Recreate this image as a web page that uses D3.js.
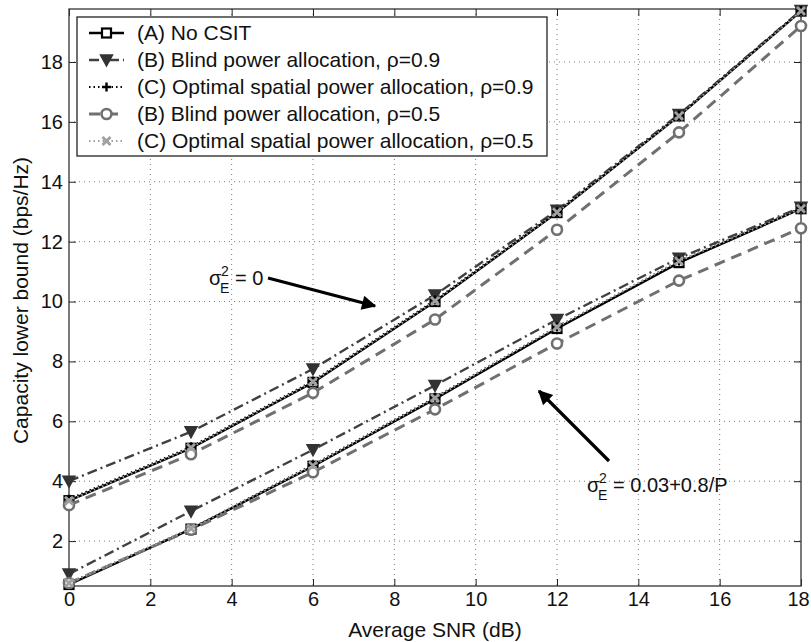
<!DOCTYPE html>
<html lang="en">
<head>
    <meta charset="UTF-8" />
    <title>Capacity lower bound vs SNR</title>
    <script src="https://d3js.org/d3.v7.min.js"></script>
    <style>
        body { margin: 0; background: #fff; }
        svg { display: block; font-family: "Liberation Sans", Arial, Helvetica, sans-serif; }
        .grid line { stroke: #777; stroke-width: 1; stroke-dasharray: 1,4; }
    </style>
</head>
<body>
    <svg id="chart" width="811" height="642"></svg>

    <script>
        // x values (dB)
        const snr = [0, 3, 6, 9, 12, 15, 18];

        // sigma_E^2 = 0 (upper group)
        const noCsitPerfect   = [3.35, 5.1, 7.3, 10.0, 12.97, 16.2, 19.7];
        const blind09Perfect  = [4.0, 5.65, 7.75, 10.22, 13.05, 16.25, 19.72];
        const opt09Perfect    = [3.4, 5.15, 7.35, 10.05, 13.0, 16.22, 19.72];
        const blind05Perfect  = [3.2, 4.9, 6.95, 9.4, 12.4, 15.65, 19.2];
        const opt05Perfect    = [3.35, 5.12, 7.32, 10.02, 12.98, 16.2, 19.7];

        // sigma_E^2 = 0.03 + 0.8/P (lower group)
        const noCsitErr  = [0.55, 2.4, 4.5, 6.75, 9.1, 11.3, 13.1];
        const blind09Err = [0.9, 3.0, 5.05, 7.2, 9.4, 11.45, 13.15];
        const opt09Err   = [0.6, 2.42, 4.55, 6.8, 9.15, 11.35, 13.12];
        const blind05Err = [0.6, 2.38, 4.3, 6.4, 8.6, 10.7, 12.45];
        const opt05Err   = [0.6, 2.42, 4.52, 6.78, 9.15, 11.35, 13.1];

        const xTicks = [0, 2, 4, 6, 8, 10, 12, 14, 16, 18];
        const yTicks = [2, 4, 6, 8, 10, 12, 14, 16, 18];

        const legendLabels = [
            "(A) No CSIT",
            "(B) Blind power allocation, \u03C1=0.9",
            "(C) Optimal spatial power allocation, \u03C1=0.9",
            "(B) Blind power allocation, \u03C1=0.5",
            "(C) Optimal spatial power allocation, \u03C1=0.5"
        ];

        // series styles: same order as legend
        const styles = [
            { color: "#000", width: 2.4, dash: null, marker: "square" },
            { color: "#404040", width: 2.4, dash: "10,4,2,4", marker: "tri" },
            { color: "#000", width: 2, dash: "1.5,3", marker: "plus" },
            { color: "#707070", width: 3, dash: "11,7", marker: "circle" },
            { color: "#a0a0a0", width: 2, dash: "1.5,3", marker: "cross" }
        ];

        const groups = [
            [noCsitPerfect, blind09Perfect, opt09Perfect, blind05Perfect, opt05Perfect],
            [noCsitErr, blind09Err, opt09Err, blind05Err, opt05Err]
        ];

        const FS = 20, FS_LABEL = 21;
        const pLeft = 69, pRight = 801, pTop = 9, pBottom = 586;
        const svg = d3.select("#chart");

        const x = d3.scaleLinear().domain([0, 18]).range([pLeft, pRight]);
        const y = d3.scaleLinear().domain([0.5, 19.77]).range([pBottom, pTop]);

        // grid
        const grid = svg.append("g").attr("class", "grid");
        grid.selectAll(".gx").data(xTicks.slice(1, -1)).enter().append("line")
            .attr("x1", d => x(d)).attr("x2", d => x(d))
            .attr("y1", pTop).attr("y2", pBottom);
        grid.selectAll(".gy").data(yTicks).enter().append("line")
            .attr("x1", pLeft).attr("x2", pRight)
            .attr("y1", d => y(d)).attr("y2", d => y(d));

        // axes with inward ticks, mirrored
        const axStyle = g => {
            g.select(".domain").remove();
            g.selectAll(".tick line").attr("stroke", "#222").attr("stroke-width", 1);
            g.selectAll("text").attr("font-size", FS).attr("fill", "#111")
                .attr("font-family", "'Liberation Sans', Arial, sans-serif");
        };
        const xAxisG = svg.append("g").attr("transform", `translate(0,${pBottom})`)
            .call(d3.axisBottom(x).tickValues(xTicks).tickSizeInner(-7).tickSizeOuter(0).tickPadding(6))
            .call(axStyle);
        // keep the last label inside the page
        xAxisG.selectAll(".tick text").filter(d => d === 18).attr("x", -3);
        svg.append("g").attr("transform", `translate(0,${pTop})`)
            .call(d3.axisTop(x).tickValues(xTicks).tickSizeInner(-7).tickSizeOuter(0).tickFormat(""))
            .call(axStyle);
        svg.append("g").attr("transform", `translate(${pLeft},0)`)
            .call(d3.axisLeft(y).tickValues(yTicks).tickSizeInner(-7).tickSizeOuter(0).tickPadding(6))
            .call(axStyle);
        svg.append("g").attr("transform", `translate(${pRight},0)`)
            .call(d3.axisRight(y).tickValues(yTicks).tickSizeInner(-7).tickSizeOuter(0).tickFormat(""))
            .call(axStyle);

        svg.append("rect")
            .attr("x", pLeft).attr("y", pTop)
            .attr("width", pRight - pLeft).attr("height", pBottom - pTop)
            .attr("fill", "none").attr("stroke", "#333").attr("stroke-width", 1.3);

        // markers
        function drawMarker(g, type, cx, cy, st) {
            if (type === "square") {
                g.append("rect").attr("x", cx - 4.5).attr("y", cy - 4.5).attr("width", 9).attr("height", 9)
                    .attr("fill", "#fff").attr("stroke", "#000").attr("stroke-width", 2.2);
            } else if (type === "tri") {
                g.append("path").attr("d", `M${cx - 6},${cy - 5}L${cx + 6},${cy - 5}L${cx},${cy + 6}Z`)
                    .attr("fill", "#333").attr("stroke", "#333").attr("stroke-width", 1.5);
            } else if (type === "plus") {
                g.append("path").attr("d", `M${cx - 4.5},${cy}H${cx + 4.5}M${cx},${cy - 4.5}V${cy + 4.5}`)
                    .attr("stroke", "#000").attr("stroke-width", 2.4);
            } else if (type === "circle") {
                g.append("circle").attr("cx", cx).attr("cy", cy).attr("r", 5)
                    .attr("fill", "#fff").attr("stroke", "#707070").attr("stroke-width", 2.6);
            } else if (type === "cross") {
                g.append("path").attr("d", `M${cx - 4},${cy - 4}L${cx + 4},${cy + 4}M${cx - 4},${cy + 4}L${cx + 4},${cy - 4}`)
                    .attr("stroke", st.color).attr("stroke-width", 2.8);
            }
        }

        const line = d3.line().x((d, i) => x(snr[i])).y(d => y(d));
        const plot = svg.append("g");

        groups.forEach(series => {
            series.forEach((vals, k) => {
                const st = styles[k];
                plot.append("path").datum(vals)
                    .attr("d", line)
                    .attr("fill", "none")
                    .attr("stroke", st.color)
                    .attr("stroke-width", st.width)
                    .attr("stroke-dasharray", st.dash);
                const mg = plot.append("g");
                vals.forEach((v, i) => drawMarker(mg, st.marker, x(snr[i]), y(v), st));
            });
        });

        // annotations with arrows
        svg.append("defs").append("marker")
            .attr("id", "arrow").attr("viewBox", "0 0 10 10")
            .attr("refX", 9).attr("refY", 5)
            .attr("markerWidth", 5.5).attr("markerHeight", 4.5)
            .attr("markerUnits", "strokeWidth")
            .attr("orient", "auto")
            .append("path").attr("d", "M0,0L10,5L0,10Z").attr("fill", "#000");

        svg.append("line")
            .attr("x1", 268).attr("y1", 278).attr("x2", 375).attr("y2", 306)
            .attr("stroke", "#000").attr("stroke-width", 3.2).attr("marker-end", "url(#arrow)");
        svg.append("line")
            .attr("x1", 609).attr("y1", 461).attr("x2", 539).attr("y2", 391)
            .attr("stroke", "#000").attr("stroke-width", 3.2).attr("marker-end", "url(#arrow)");

        function sigmaLabel(xp, yp, rest) {
            const g = svg.append("g").attr("fill", "#111");
            g.append("text").attr("x", xp).attr("y", yp).attr("font-size", FS).text("\u03C3");
            g.append("text").attr("x", xp + 12).attr("y", yp - 9).attr("font-size", 14).text("2");
            g.append("text").attr("x", xp + 11).attr("y", yp + 8).attr("font-size", 14).text("E");
            g.append("text").attr("x", xp + 26).attr("y", yp).attr("font-size", FS).text(rest);
        }
        sigmaLabel(209, 285, "= 0");
        sigmaLabel(587, 492, "= 0.03+0.8/P");

        // axis labels
        svg.append("text").attr("x", (pLeft + pRight) / 2).attr("y", 637)
            .attr("text-anchor", "middle").attr("font-size", FS_LABEL).attr("fill", "#111")
            .text("Average SNR (dB)");
        svg.append("text")
            .attr("transform", `translate(28,${(pTop + pBottom) / 2 + 3}) rotate(-90)`)
            .attr("text-anchor", "middle").attr("font-size", FS_LABEL).attr("fill", "#111")
            .text("Capacity lower bound (bps/Hz)");

        // legend
        const lg = svg.append("g");
        lg.append("rect").attr("x", 77).attr("y", 17).attr("width", 470).attr("height", 139)
            .attr("fill", "#fff").attr("stroke", "#222").attr("stroke-width", 1.3);
        legendLabels.forEach((lab, i) => {
            const ly = 33 + i * 27;
            const st = styles[i];
            lg.append("line").attr("x1", 89).attr("x2", 124).attr("y1", ly).attr("y2", ly)
                .attr("stroke", st.color).attr("stroke-width", st.width)
                .attr("stroke-dasharray", st.dash);
            drawMarker(lg, st.marker, 106.5, ly, st);
            lg.append("text").attr("x", 137).attr("y", ly + 7)
                .attr("font-size", FS_LABEL).attr("fill", "#111").text(lab);
        });
    </script>
</body>
</html>
